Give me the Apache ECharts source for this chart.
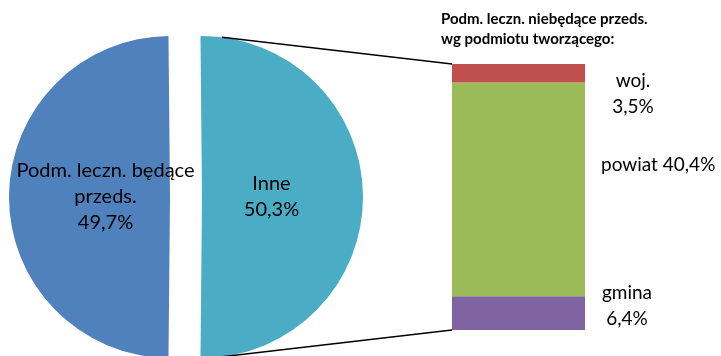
<!DOCTYPE html>
<html>
<head>
<meta charset="utf-8">
<script src="https://cdn.jsdelivr.net/npm/echarts@6/dist/echarts.min.js"></script>
<style>
  html, body { margin: 0; padding: 0; background: #fff; }
  #chart { width: 721px; height: 356px; }
</style>
</head>
<body>
<div id="chart"></div>
<script>
// Pie: two groups of health-care entities (share, %)
const pieNames = ['Inne', 'Podm. leczn. będące\nprzeds.'];
const pieValues = [50.3, 49.7];
const pieColors = ['#4BACC6', '#4F81BD'];

// Bar: breakdown of "Inne" by founding body (share, %), bottom to top
const barNames = ['gmina', 'powiat', 'woj.'];
const barValues = [6.4, 40.4, 3.5];
const barColors = ['#8064A2', '#9BBB59', '#C0504D'];

const barTitle = 'Podm. leczn. niebędące przeds.\nwg podmiotu tworzącego:';

const FONT = 'Lato, "Liberation Sans", sans-serif';
const fmt = v => v.toFixed(1).replace('.', ',') + '%';

// pie geometry
const PIE_CX = 186, PIE_CY = 197, PIE_R = 161, EXPLODE = 16;
// the split slice ("Inne") is centred on the right-hand side
const pieTotal = pieValues.reduce((a, b) => a + b, 0);
const startAngle = pieValues[0] / pieTotal * 180;
// horizontal nudge of each slice label towards the pie's middle
const pieLabelShift = [-14, 19];

const barTotal = barValues.reduce((a, b) => a + b, 0);

// label placement per bar segment: [align, distance, dy]
const barLabelPlace = {
  'gmina': ['center', 42, -7],
  'powiat': ['left', 16, -24],
  'woj.': ['center', 48, 21]
};

const chart = echarts.init(document.getElementById('chart'), null, { renderer: 'canvas' });

const barSeries = barNames.map((name, i) => ({
  type: 'bar',
  name: name,
  stack: 'inne',
  barWidth: '100%',
  data: [barValues[i]],
  itemStyle: { color: barColors[i] },
  label: {
    show: true,
    position: 'right',
    distance: barLabelPlace[name][1],
    offset: [0, barLabelPlace[name][2]],
    align: barLabelPlace[name][0],
    verticalAlign: 'middle',
    fontFamily: FONT,
    fontSize: 19,
    lineHeight: 26,
    color: '#000',
    formatter: p => name === 'powiat' ? name + ' ' + fmt(p.value) : name + '\n' + fmt(p.value)
  },
  emphasis: { disabled: true }
}));

chart.setOption({
  animation: false,
  title: {
    text: barTitle,
    left: 441,
    top: 9,
    padding: 0,
    textStyle: { fontFamily: FONT, fontSize: 15, fontWeight: 'bold', lineHeight: 20, color: '#000' }
  },
  grid: { left: 452, top: 64, width: 133, height: 266 },
  xAxis: { type: 'category', data: [''], show: false },
  yAxis: { type: 'value', min: 0, max: barTotal, show: false, splitLine: { show: false } },
  series: [
    {
      type: 'pie',
      center: [PIE_CX, PIE_CY],
      radius: PIE_R,
      startAngle: startAngle,
      clockwise: true,
      selectedMode: 'multiple',
      selectedOffset: EXPLODE,
      itemStyle: { borderWidth: 0 },
      emphasis: { disabled: true },
      data: pieNames.map((n, i) => ({
        name: n, value: pieValues[i], selected: true, itemStyle: { color: pieColors[i] }
      })),
      label: {
        show: true,
        position: 'inside',
        fontFamily: FONT,
        fontSize: 20,
        lineHeight: 26,
        color: '#000',
        formatter: p => p.name + '\n' + fmt(p.value)
      },
      labelLayout: p => ({ dx: pieLabelShift[p.dataIndex] }),
      labelLine: { show: false }
    },
    ...barSeries
  ]
});

// connector lines from the exploded slice to the top and bottom of the bar
const sliceCx = PIE_CX + EXPLODE;
const dx = 20;
const dy = Math.sqrt(PIE_R * PIE_R - dx * dx);
const barTop = chart.convertToPixel({ gridIndex: 0 }, [0, barTotal]);
const barBottom = chart.convertToPixel({ gridIndex: 0 }, [0, 0]);
const barLeft = 452;
chart.setOption({
  graphic: [
    { type: 'line', shape: { x1: sliceCx + dx, y1: PIE_CY - dy, x2: barLeft, y2: barTop[1] },
      style: { stroke: '#000', lineWidth: 1.5 }, z: 10 },
    { type: 'line', shape: { x1: sliceCx + dx, y1: PIE_CY + dy, x2: barLeft, y2: barBottom[1] },
      style: { stroke: '#000', lineWidth: 1.5 }, z: 10 }
  ]
});
</script>
</body>
</html>
